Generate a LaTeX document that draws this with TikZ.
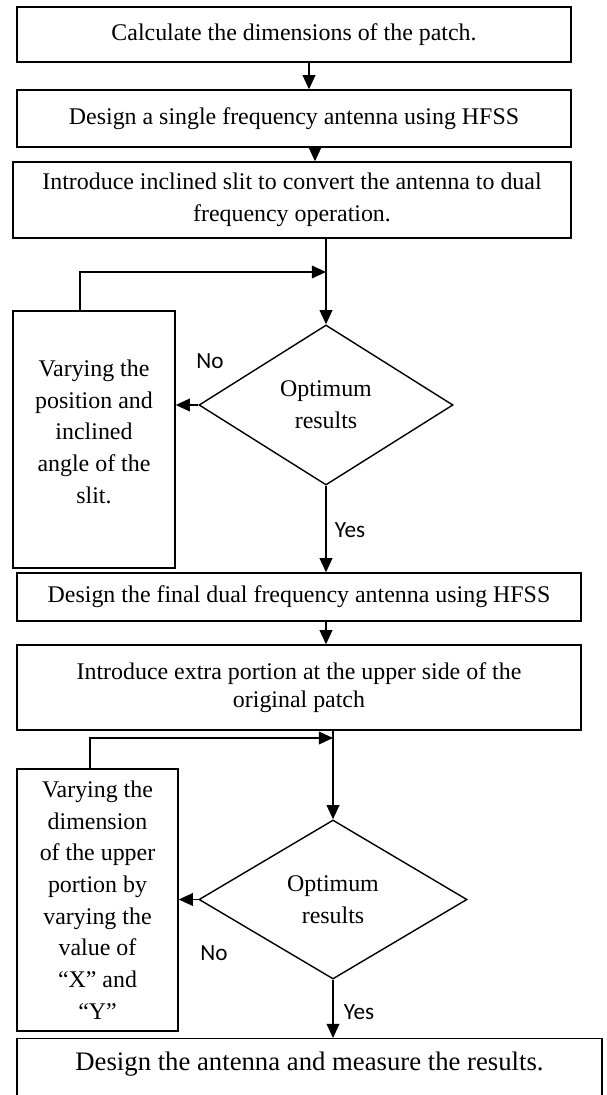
\documentclass[tikz,border=0pt]{standalone}
\usepackage{fontspec}
\setmainfont{Liberation Serif}
\newfontfamily\labelfont{Carlito}
\usetikzlibrary{positioning,arrows.meta,shapes.geometric}

\begin{document}
\begin{tikzpicture}[x=0.025cm,y=-0.025cm,
  every node/.style={font=\fontsize{17}{22.5}\selectfont},
  box/.style={draw,line width=1pt,inner sep=0pt,align=center},
  test/.style={draw,diamond,line width=1pt,inner sep=0pt,align=center},
  flow/.style={-{Triangle[length=10pt,width=9pt]},line width=1pt},
  lab/.style={font=\labelfont\fontsize{16.5}{18}\selectfont}]
  \useasboundingbox (0,0) rectangle (606,1095);
  \node[box,minimum width=13.85cm,minimum height=1.375cm] (calc) at (294,34.5) {Calculate the dimensions of the patch.};
  \node[box,minimum width=13.85cm,minimum height=1.425cm] (single) at (294,118.5) {Design a single frequency antenna using HFSS};
  \node[box,minimum width=13.95cm,minimum height=1.9cm] (slit) at (292,200) {Introduce inclined slit to convert the antenna to dual\\frequency operation.};
  \node[test,minimum width=6.35cm,minimum height=4cm] (opt1) at (326,405) {Optimum\\results};
  \node[box,minimum width=4.05cm,minimum height=6.425cm] (vary1) at (94,439.5) {Varying the\\position and\\inclined\\angle of the\\slit.\\[-0.4cm]};
  \node[box,minimum width=14.1cm,minimum height=1.2cm] (final) at (299,597) {Design the final dual frequency antenna using HFSS};
  \node[box,minimum width=14.1cm,minimum height=2.125cm,font=\fontsize{17}{20}\selectfont] (extra) at (299,687.5) {Introduce extra portion at the upper side of the\\original patch};
  \node[test,minimum width=6.7cm,minimum height=3.975cm] (opt2) at (333,899.5) {Optimum\\results};
  \node[box,minimum width=4.025cm,minimum height=6.55cm] (vary2) at (97.5,900) {Varying the\\dimension\\of the upper\\portion by\\varying the\\value of\\``X'' and\\``Y''};
  \node[box,anchor=north,minimum width=14.625cm,text height=0.8cm,text depth=1.5cm,font=\fontsize{19}{22}\selectfont] (measure) at (309.5,1038) {Design the antenna and measure the results.};
  \coordinate (join1) at (326,272);
  \coordinate (join2) at (333,738);
  \node[lab] (no1) at (210,361) {No};
  \node[lab] (yes1) at (350,530) {Yes};
  \node[lab] (no2) at (214,953) {No};
  \node[lab] (yes2) at (359,1012) {Yes};
  \draw[flow] ([xshift=0.375cm]calc.south) -- ([xshift=0.375cm]calc.south |- single.north);
  \draw[flow] ([xshift=0.525cm]single.south) -- ([xshift=0.525cm]single.south |- slit.north);
  \draw[flow] (slit.south -| opt1.north) -- (opt1.north);
  \draw[flow] ([xshift=-0.35cm]vary1.north) |- (join1);
  \draw[flow] (opt1.west) -- (opt1.west -| vary1.east);
  \draw[flow] (opt1.south) -- (opt1.south |- final.north);
  \draw[flow] (final.south -| opt1.north) -- (extra.north -| opt1.north);
  \draw[flow] (extra.south -| opt2.north) -- (opt2.north);
  \draw[flow] ([xshift=-0.19cm]vary2.north) |- (join2);
  \draw[flow] (opt2.west) -- (opt2.west -| vary2.east);
  \draw[flow] (opt2.south) -- (opt2.south |- measure.north);
\end{tikzpicture}
\end{document}
